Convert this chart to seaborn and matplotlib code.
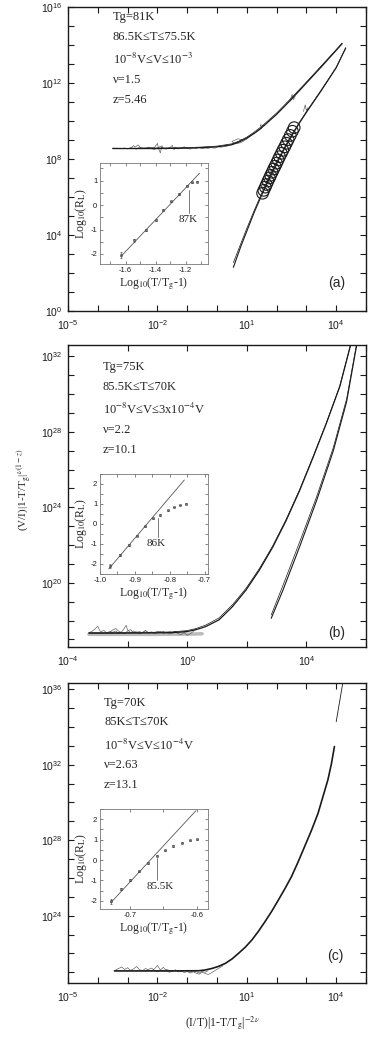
# ---------------------------------------------------
# Scaling collapse of V/I curves (three samples) with R_L insets
# ---------------------------------------------------

import numpy as np
import pandas as pd
import matplotlib
matplotlib.use("Agg")
import matplotlib.pyplot as plt
from matplotlib.ticker import FixedLocator, NullFormatter, LogFormatterSciNotation, MultipleLocator
import seaborn as sns

# -----------------------------
# Panel (a) data (log10 values)
# -----------------------------
a_up_x = [-3.5, -3.0, -2.5, -2.0, -1.5, -1.0, -0.5, 0.0, 0.5, 0.75, 1.0, 1.25, 1.5, 2.0, 2.5, 3.0, 3.5, 4.2]
a_up_y = [8.55, 8.55, 8.55, 8.55, 8.56, 8.57, 8.60, 8.64, 8.75, 8.90, 9.10, 9.35, 9.65, 10.35, 11.15, 12.00, 12.85, 14.07]
a_up2_y = [8.57, 8.56, 8.57, 8.58, 8.58, 8.60, 8.63, 8.68, 8.80, 8.95, 9.15, 9.42, 9.72, 10.42, 11.22, 12.05, 12.90, 14.10]
a_lo_x = [0.55, 0.80, 1.00, 1.25, 1.50, 1.75, 2.00, 2.25, 2.50, 2.75, 3.00, 3.50, 4.00, 4.32]
a_lo_y = [2.30, 3.40, 4.20, 5.20, 6.10, 6.95, 7.75, 8.50, 9.20, 9.85, 10.45, 11.60, 12.80, 13.84]
a_lo2_y = [2.55, 3.55, 4.35, 5.30, 6.20, 7.05, 7.85, 8.58, 9.27, 9.90, 10.50, 11.64, 12.83, 13.86]
a_circ_x = [1.53, 1.57, 1.62, 1.66, 1.71, 1.76, 1.80, 1.85, 1.90, 1.95, 2.00,
            2.05, 2.10, 2.16, 2.21, 2.27, 2.33, 2.39, 2.46, 2.53, 2.59]
a_circ_y = [6.20, 6.35, 6.52, 6.66, 6.84, 7.00, 7.14, 7.30, 7.47, 7.62, 7.78,
            7.95, 8.12, 8.30, 8.46, 8.64, 8.83, 9.02, 9.24, 9.46, 9.65]
a_noise1_x = [-3.2, -3.1, -3.0, -2.9, -2.8, -2.7, -2.6, -2.5, -2.4, -2.3, -2.2, -2.1, -2.0, -1.9, -1.8, -1.7, -1.6,
              -1.5, -1.4, -1.3, -1.2, -1.1, -1.0, -0.9, -0.8, -0.7, -0.6, -0.5, -0.4, -0.3, -0.2, -0.1, 0.0]
a_noise1_y = [8.55, 8.58, 8.53, 8.60, 8.56, 8.52, 8.62, 8.57, 8.54, 8.63, 8.55, 8.50, 8.58, 8.66, 8.56, 8.52, 8.60,
              8.55, 8.62, 8.53, 8.57, 8.64, 8.56, 8.52, 8.59, 8.55, 8.61, 8.54, 8.58, 8.56, 8.60, 8.57, 8.60]
a_noise2_x = [-2.9, -2.8, -2.75, -2.65, -2.55, -2.1, -2.0, -1.95, -1.9, -1.85, -1.8, -1.6, -1.5, -1.45, -1.35]
a_noise2_y = [8.56, 8.70, 8.62, 8.74, 8.58, 8.60, 8.82, 8.50, 8.32, 8.70, 8.55, 8.57, 8.72, 8.50, 8.58]
a_noise3_x = [0.1, 0.3, 0.5, 0.7, 0.85, 0.7, 0.5, 0.6, 0.8, 1.0, 1.2, 1.35, 1.5, 1.45, 1.6]
a_noise3_y = [8.62, 8.66, 8.78, 8.90, 9.02, 9.06, 8.92, 8.80, 8.86, 9.05, 9.30, 9.45, 9.62, 9.80, 9.75]
a_tick1_x = [2.45, 2.52, 2.56, 2.62]
a_tick1_y = [11.05, 11.40, 11.12, 11.30]
a_tick2_x = [2.90, 2.96, 3.00, 3.05]
a_tick2_y = [10.50, 10.85, 10.55, 10.70]

# -----------------------------
# Panel (b) data
# -----------------------------
b_up_x = [-3.3, -2.5, -1.5, -0.5, 0.0, 0.3, 0.62, 1.07, 1.52, 1.97, 2.42, 2.87, 3.32, 3.77, 4.22, 4.67, 5.12, 5.50]
b_up_y = [17.33, 17.33, 17.34, 17.36, 17.42, 17.52, 17.68, 18.04, 18.74, 19.61, 20.67, 21.89, 23.30, 24.88, 26.63,
          28.45, 30.40, 32.70]
b_up2_y = [17.36, 17.36, 17.37, 17.40, 17.47, 17.58, 17.76, 18.14, 18.84, 19.70, 20.75, 21.96, 23.36, 24.93, 26.67,
           28.48, 30.42, 32.72]
b_lo_x = [2.82, 3.21, 3.77, 4.34, 4.90, 5.35, 5.70]
b_lo_y = [18.12, 19.60, 21.90, 24.35, 26.98, 29.60, 32.70]
b_lo2_y = [18.30, 19.85, 22.15, 24.55, 27.15, 29.75, 32.80]
b_noise1_x = [-3.3, -3.2, -3.1, -3.0, -2.95, -2.9, -2.8, -2.7, -2.6, -2.5, -2.4, -2.3, -2.2, -2.1, -2.05, -2.0,
              -1.9, -1.8, -1.7, -1.6, -1.5, -1.4, -1.3, -1.2, -1.1, -1.0, -0.9, -0.8, -0.7, -0.6, -0.5, -0.4,
              -0.3, -0.2, -0.1, 0.0]
b_noise1_y = [17.36, 17.42, 17.55, 17.70, 17.52, 17.40, 17.48, 17.35, 17.42, 17.38, 17.45, 17.33, 17.40, 17.62, 17.75,
              17.50, 17.36, 17.45, 17.38, 17.42, 17.35, 17.48, 17.36, 17.40, 17.33, 17.44, 17.37, 17.42, 17.34, 17.40,
              17.36, 17.43, 17.35, 17.40, 17.38, 17.42]
b_noise2_x = [-2.6, -2.5, -2.4, -2.3, -2.2, -2.1, -2.0, -1.9, -1.8, -1.7, -1.6, -1.5, -1.4, -1.3, -1.2, -1.1,
              -1.0, -0.9, -0.8, -0.7, -0.6, -0.5, -0.4, -0.3, -0.2, -0.1, 0.0, 0.1, 0.2, 0.3]
b_noise2_y = [17.38, 17.50, 17.58, 17.44, 17.36, 17.30, 17.45, 17.52, 17.35, 17.40, 17.30, 17.38, 17.46, 17.33, 17.38,
              17.30, 17.36, 17.42, 17.32, 17.37, 17.30, 17.34, 17.40, 17.30, 17.26, 17.36, 17.22, 17.30, 17.42, 17.55]
b_band_x = [-3.3, -2.0, -1.0, 0.0, 0.5]
b_band_y = [17.27, 17.27, 17.27, 17.28, 17.30]

# -----------------------------
# Panel (c) data
# -----------------------------
c_x = [-3.44, -2.5, -1.5, -0.61, -0.4, -0.17, 0.05, 0.28, 0.5, 0.72, 0.95, 1.17, 1.39, 1.61, 1.84, 2.06, 2.28,
       2.5, 2.72, 2.94, 3.17, 3.39, 3.55, 3.72, 3.84, 3.94]
c_y = [21.07, 21.07, 21.07, 21.08, 21.12, 21.20, 21.31, 21.47, 21.70, 22.00, 22.33, 22.71, 23.17, 23.68, 24.24,
       24.83, 25.43, 26.07, 26.84, 27.66, 28.52, 29.42, 30.28, 31.19, 32.05, 32.96]
c_top_x = [4.00, 4.24]
c_top_y = [34.28, 36.50]
c_noise1_x = [-3.4, -3.3, -3.2, -3.1, -3.0, -2.9, -2.8, -2.7, -2.6, -2.5, -2.4, -2.3, -2.2, -2.1, -2.0, -1.9,
              -1.8, -1.7, -1.6, -1.5, -1.4, -1.3, -1.2, -1.1, -1.0, -0.9, -0.8, -0.7, -0.6, -0.5, -0.4, -0.3]
c_noise1_y = [21.12, 21.20, 21.28, 21.15, 21.24, 21.10, 21.18, 21.30, 21.14, 21.08, 21.20, 21.12, 21.06, 21.18,
              21.36, 21.12, 21.05, 21.15, 21.10, 21.04, 21.12, 21.07, 21.02, 21.10, 21.05, 21.00, 21.08, 21.03,
              20.96, 21.05, 21.00, 21.08]
c_noise2_x = [-2.4, -2.3, -2.2, -2.1, -2.0, -1.9, -1.8, -1.7, -1.6, -1.5, -1.4, -1.3, -1.2, -1.1, -1.0, -0.9,
              -0.8, -0.7, -0.6, -0.5, -0.4, -0.3, -0.2, -0.1, 0.0, 0.1, 0.2]
c_noise2_y = [21.05, 21.15, 21.22, 21.10, 21.02, 21.12, 21.26, 21.08, 21.00, 21.06, 21.12, 21.02, 21.08, 20.98,
              21.04, 20.96, 21.02, 20.95, 20.90, 21.00, 20.94, 20.88, 20.96, 21.06, 21.15, 21.25, 21.35]

# -----------------------------
# Inset data: Log10(T/Tg-1) vs Log10(R_L)
# -----------------------------
ia_x = [-1.630, -1.542, -1.466, -1.400, -1.350, -1.295, -1.246, -1.188, -1.154, -1.120]
ia_y = [-2.05, -1.44, -1.03, -0.62, -0.21, 0.15, 0.45, 0.79, 0.93, 0.96]
ia_err = [0.12, 0.05, 0.04, 0.03, 0.03, 0.03, 0.03, 0.03, 0.02, 0.02]
ia_fit_x = [-1.630, -1.107]
ia_fit_y = [-2.10, 1.30]

ib_x = [-0.970, -0.943, -0.917, -0.893, -0.870, -0.847, -0.827, -0.805, -0.787, -0.770, -0.752]
ib_y = [-2.10, -1.55, -1.05, -0.58, -0.12, 0.28, 0.45, 0.68, 0.85, 0.95, 1.02]
ib_err = [0.12, 0.06, 0.05, 0.04, 0.04, 0.03, 0.03, 0.03, 0.02, 0.02, 0.02]
ib_fit_x = [-0.975, -0.758]
ib_fit_y = [-2.25, 2.20]

ic_x = [-0.729, -0.714, -0.700, -0.686, -0.6735, -0.660, -0.6475, -0.635, -0.6225, -0.610, -0.600]
ic_y = [-2.02, -1.42, -0.98, -0.56, -0.16, 0.21, 0.48, 0.69, 0.84, 0.97, 1.02]
ic_err = [0.12, 0.06, 0.05, 0.04, 0.04, 0.03, 0.03, 0.03, 0.02, 0.02, 0.02]
ic_fit_x = [-0.729, -0.601]
ic_fit_y = [-2.10, 2.42]

W, H = 374, 1038

sns.set_theme(style="ticks")
plt.rcParams["font.family"] = ["Liberation Sans", "DejaVu Sans"]
plt.rcParams["mathtext.fontset"] = "stix"
plt.rcParams["axes.unicode_minus"] = False
SERIF = ["Liberation Serif", "DejaVu Serif"]
GREY = "#666666"


def box(l, t, r, b):
    return [l / W, 1 - b / H, (r - l) / W, (b - t) / H]


def curve(ax, lx, ly, color="k", lw=0.7):
    df = pd.DataFrame({"x": np.power(10.0, lx), "y": np.power(10.0, ly)})
    sns.lineplot(data=df, x="x", y="y", ax=ax, color=color, lw=lw,
                 estimator=None, sort=False, legend=False)


def style_main(ax, xlim, ylim, xmaj, xmin, ymaj, ymin):
    ax.set_xscale("log")
    ax.set_yscale("log")
    ax.set_xlim(10.0 ** xlim[0], 10.0 ** xlim[1])
    ax.set_ylim(10.0 ** ylim[0], 10.0 ** ylim[1])
    ax.xaxis.set_major_locator(FixedLocator([10.0 ** k for k in xmaj]))
    ax.xaxis.set_minor_locator(FixedLocator([10.0 ** k for k in xmin]))
    ax.yaxis.set_major_locator(FixedLocator([10.0 ** k for k in ymaj]))
    ax.yaxis.set_minor_locator(FixedLocator([10.0 ** k for k in ymin]))
    ax.xaxis.set_major_formatter(LogFormatterSciNotation())
    ax.yaxis.set_major_formatter(LogFormatterSciNotation())
    ax.xaxis.set_minor_formatter(NullFormatter())
    ax.yaxis.set_minor_formatter(NullFormatter())
    ax.tick_params(which="both", direction="in", top=True, right=True,
                   length=4, width=0.8, labelsize=7.5, colors="k")
    ax.tick_params(axis="x", pad=5)
    ax.tick_params(axis="y", pad=4)
    for s in ax.spines.values():
        s.set_linewidth(1.0)
        s.set_color("k")
    ax.set_xlabel("")
    ax.set_ylabel("")


def style_inset(ax, xlim, ylim, xmaj, xmin):
    ax.set_xlim(*xlim)
    ax.set_ylim(*ylim)
    ax.xaxis.set_major_locator(MultipleLocator(xmaj))
    ax.xaxis.set_minor_locator(MultipleLocator(xmin))
    ax.yaxis.set_major_locator(MultipleLocator(1))
    ax.yaxis.set_minor_locator(MultipleLocator(0.5))
    ax.tick_params(which="both", direction="in", top=True, right=True,
                   length=2.5, width=0.5, labelsize=5.5, pad=2, colors="#555555",
                   labelcolor="k")
    for s in ax.spines.values():
        s.set_linewidth(0.6)
        s.set_color("#777777")
    ax.set_xlabel(r"Log$_{10}$(T/T$_{\rm g}$-1)", family=SERIF, fontsize=8.5, labelpad=1)
    ax.set_ylabel(r"Log$_{10}$(R$_{\rm L}$)", family=SERIF, fontsize=8.5, labelpad=1)


def inset_points(ax, x, y, err, fx, fy):
    sns.lineplot(x=fx, y=fy, ax=ax, color="#555555", lw=0.6, estimator=None, sort=False)
    ax.errorbar(x, y, yerr=err, fmt="s", ms=1.3, mfc="none", mec="#444444", mew=0.5,
                ecolor="#555555", elinewidth=0.5, capsize=1.0, capthick=0.5, lw=0)


def params_text(ax, x, ys, lines):
    for y, s in zip(ys, lines):
        ax.text(x, y, s, transform=ax.transAxes, family=SERIF, fontsize=9,
                va="center", ha="left")


fig = plt.figure(figsize=(W / 100, H / 100), dpi=100)

# -----------------------------
# Panel (a)
# -----------------------------
ax_a = fig.add_axes(box(68, 7, 366, 311))
ax_a.set_xscale("log")
ax_a.set_yscale("log")
curve(ax_a, a_noise1_x, a_noise1_y, color=GREY, lw=0.5)
curve(ax_a, a_noise2_x, a_noise2_y, color=GREY, lw=0.5)
curve(ax_a, a_noise3_x, a_noise3_y, color=GREY, lw=0.5)
curve(ax_a, a_tick1_x, a_tick1_y, color=GREY, lw=0.5)
curve(ax_a, a_tick2_x, a_tick2_y, color=GREY, lw=0.5)
curve(ax_a, a_up_x, a_up_y, lw=0.9)
curve(ax_a, a_up_x, a_up2_y, lw=0.5)
curve(ax_a, a_lo_x, a_lo_y, lw=0.8)
curve(ax_a, a_lo_x, a_lo2_y, lw=0.5)
sns.scatterplot(x=np.power(10.0, a_circ_x), y=np.power(10.0, a_circ_y), ax=ax_a,
                s=70, marker="o", facecolor="none", edgecolor="k", linewidth=0.8,
                legend=False)
style_main(ax_a, (-5, 5), (0, 16), [-5, -2, 1, 4], range(-5, 6), [0, 4, 8, 12, 16], range(0, 17))
params_text(ax_a, 0.151, [0.967, 0.901, 0.826, 0.760, 0.694],
            ["Tg=81K", "86.5K≤T≤75.5K", r"10$^{-8}$V≤V≤10$^{-3}$", "ν=1.5", "z=5.46"])
ax_a.text(0.903, 0.092, "(a)", transform=ax_a.transAxes, fontsize=10, ha="center", va="center")

in_a = fig.add_axes(box(100, 163, 208, 264))
inset_points(in_a, ia_x, ia_y, ia_err, ia_fit_x, ia_fit_y)
style_inset(in_a, (-1.77, -1.05), (-2.41, 1.72), 0.2, 0.1)
in_a.plot([-1.179, -1.179], [0.62, -0.34], color="#444444", lw=0.5)
in_a.text(-1.184, -0.6, "87K", family=SERIF, fontsize=8, ha="center", va="center")

# -----------------------------
# Panel (b)
# -----------------------------
ax_b = fig.add_axes(box(68, 345, 366, 647))
ax_b.set_xscale("log")
ax_b.set_yscale("log")
curve(ax_b, b_band_x, b_band_y, color="#bbbbbb", lw=2.5)
curve(ax_b, b_noise1_x, b_noise1_y, color=GREY, lw=0.5)
curve(ax_b, b_noise2_x, b_noise2_y, color=GREY, lw=0.5)
curve(ax_b, b_up_x, b_up_y, lw=0.9)
curve(ax_b, b_up_x, b_up2_y, lw=0.5)
curve(ax_b, b_lo_x, b_lo_y, lw=0.8)
curve(ax_b, b_lo_x, b_lo2_y, lw=0.5)
style_main(ax_b, (-4, 6), (16.6, 32.6), [-4, 0, 4], [-4, -2, 0, 2, 4, 6], [20, 24, 28, 32], range(17, 33))
params_text(ax_b, 0.117, [0.927, 0.861, 0.785, 0.719, 0.652],
            ["Tg=75K", "85.5K≤T≤70K", r"10$^{-8}$V≤V≤3x10$^{-4}$V", "ν=2.2", "z=10.1"])
ax_b.text(0.903, 0.046, "(b)", transform=ax_b.transAxes, fontsize=10, ha="center", va="center")

in_b = fig.add_axes(box(100, 474, 208, 574))
inset_points(in_b, ib_x, ib_y, ib_err, ib_fit_x, ib_fit_y)
style_inset(in_b, (-1.0, -0.69), (-2.5, 2.5), 0.1, 0.05)
in_b.plot([-0.833, -0.833], [0.30, -0.63], color="#444444", lw=0.5)
in_b.text(-0.84, -0.95, "86K", family=SERIF, fontsize=8, ha="center", va="center")

# -----------------------------
# Panel (c)
# -----------------------------
ax_c = fig.add_axes(box(68, 683, 366, 983))
ax_c.set_xscale("log")
ax_c.set_yscale("log")
curve(ax_c, c_noise1_x, c_noise1_y, color=GREY, lw=0.5)
curve(ax_c, c_noise2_x, c_noise2_y, color=GREY, lw=0.5)
curve(ax_c, c_x, c_y, lw=1.2)
curve(ax_c, c_top_x, c_top_y, lw=0.6)
style_main(ax_c, (-5, 5), (20.43, 36.33), [-5, -2, 1, 4], range(-5, 6), [24, 28, 32, 36], range(21, 37))
params_text(ax_c, 0.121, [0.933, 0.870, 0.793, 0.727, 0.660],
            ["Tg=70K", "85K≤T≤70K", r"10$^{-8}$V≤V≤10$^{-4}$V", "ν=2.63", "z=13.1"])
ax_c.text(0.896, 0.09, "(c)", transform=ax_c.transAxes, fontsize=10, ha="center", va="center")

in_c = fig.add_axes(box(100, 809, 208, 909))
inset_points(in_c, ic_x, ic_y, ic_err, ic_fit_x, ic_fit_y)
style_inset(in_c, (-0.745, -0.583), (-2.4, 2.5), 0.1, 0.05)
in_c.plot([-0.66, -0.66], [0.08, -0.97], color="#444444", lw=0.5)
in_c.text(-0.655, -1.29, "85.5K", family=SERIF, fontsize=8, ha="center", va="center")

# -----------------------------
# Shared axis titles
# -----------------------------
fig.text(25 / W, 1 - 490 / H, r"(V/I)|1-T/T$_{\rm g}$|$^{\nu(1-z)}$", rotation=90,
         family=SERIF, fontsize=8, ha="center", va="center")
fig.text(222 / W, 1 - 1023 / H, r"(I/T)|1-T/T$_{\rm g}$|$^{-2\nu}$",
         family=SERIF, fontsize=8.5, ha="center", va="center")

fig.savefig("out.png", dpi=100)
